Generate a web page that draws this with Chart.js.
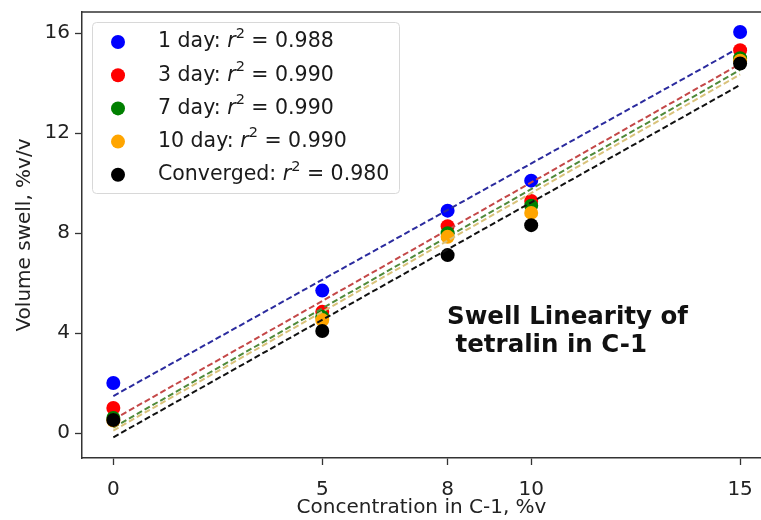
<!DOCTYPE html>
<html>
<head>
<meta charset="utf-8">
<script src="https://cdn.jsdelivr.net/npm/chart.js@4.4.1/dist/chart.umd.min.js"></script>
<style>
  html, body { margin: 0; padding: 0; background: #fff; overflow: hidden; }
</style>
</head>
<body>
<canvas id="myChart" width="761" height="520"></canvas>
<script>
const conc = [0, 5, 8, 10, 15];
const day1 = [2.0, 5.7, 8.9, 10.1, 16.05];
const day3 = [1.0, 4.85, 8.28, 9.29, 15.32];
const day7 = [0.6, 4.65, 8.0, 9.1, 15.0];
const day10 = [0.5, 4.52, 7.85, 8.81, 14.9];
const converged = [0.52, 4.08, 7.12, 8.32, 14.79];

// dashed fit lines, end points at x = 0 and x = 15
const fitX = [0, 15];
const fitDay1 = [1.48, 15.44];
const fitDay3 = [0.54, 14.77];
const fitDay7 = [0.22, 14.53];
const fitDay10 = [0.10, 14.35];
const fitConverged = [-0.17, 13.93];

const xTicks = [0, 5, 8, 10, 15];
const yTicks = [0, 4, 8, 12, 16];

const names = ['1 day', '3 day', '7 day', '10 day', 'Converged'];
const r2 = ['0.988', '0.990', '0.990', '0.990', '0.980'];
const pointColors = ['#0000ff', '#ff0000', '#008000', '#ffa500', '#000000'];
const lineColors = ['#2b2b9e', '#c44848', '#4f8a3a', '#d9c27a', '#111111'];

const series = [day1, day3, day7, day10, converged];
const fits = [fitDay1, fitDay3, fitDay7, fitDay10, fitConverged];

const FONT = 'DejaVu Sans';

function toXY(xs, ys) {
  return xs.map((x, i) => ({ x: x, y: ys[i] }));
}

// same stacking as the original: points, then its line, series by series
const datasets = [];
let order = 10;
series.forEach((ys, i) => {
  datasets.push({
    label: names[i],
    data: toXY(conc, ys),
    showLine: false,
    pointRadius: 7,
    pointBorderWidth: 0,
    backgroundColor: pointColors[i],
    borderColor: pointColors[i],
    order: order--
  });
  datasets.push({
    label: names[i] + ' fit',
    data: toXY(fitX, fits[i]),
    showLine: true,
    pointRadius: 0,
    borderColor: lineColors[i],
    borderWidth: 2,
    borderDash: [6, 3],
    order: order--
  });
});

const extras = {
  id: 'extras',
  afterDraw(chart) {
    const ctx = chart.ctx;
    const a = chart.chartArea;
    ctx.save();

    // top spine (the right one is cut off in the original)
    ctx.strokeStyle = '#333';
    ctx.lineWidth = 1.5;
    ctx.beginPath();
    ctx.moveTo(a.left, a.top);
    ctx.lineTo(a.right, a.top);
    ctx.stroke();

    // legend box
    ctx.fillStyle = 'rgba(255,255,255,0.85)';
    ctx.strokeStyle = '#d8d8d8';
    ctx.lineWidth = 1;
    ctx.beginPath();
    ctx.roundRect(92.5, 22.5, 307, 171, 4);
    ctx.fill();
    ctx.stroke();

    ctx.textBaseline = 'middle';
    names.forEach((n, i) => {
      const y = 42 + i * 33.2;
      ctx.fillStyle = pointColors[i];
      ctx.beginPath();
      ctx.arc(118, y, 7, 0, Math.PI * 2);
      ctx.fill();

      ctx.fillStyle = '#1a1a1a';
      let x = 158;
      ctx.font = '20.5px "' + FONT + '"';
      const t1 = n + ': ';
      ctx.fillText(t1, x, y);
      x += ctx.measureText(t1).width;
      ctx.font = 'italic 20.5px "' + FONT + '"';
      ctx.fillText('r', x, y);
      x += ctx.measureText('r').width;
      ctx.font = '14.5px "' + FONT + '"';
      ctx.fillText('2', x, y - 8);
      x += ctx.measureText('2').width;
      ctx.font = '20.5px "' + FONT + '"';
      ctx.fillText(' = ' + r2[i], x, y);
    });

    // note inside the plot
    ctx.fillStyle = '#111';
    ctx.font = 'bold 24.5px "' + FONT + '"';
    ctx.fillText('Swell Linearity of', 447, 318);
    ctx.fillText(' tetralin in C-1', 447, 346);

    ctx.restore();
  }
};

new Chart(document.getElementById('myChart'), {
  type: 'scatter',
  data: { datasets: datasets },
  options: {
    responsive: false,
    animation: false,
    devicePixelRatio: 1,
    layout: { autoPadding: false, padding: { top: 12, right: 0, left: 0, bottom: 0 } },
    plugins: {
      legend: { display: false },
      tooltip: { enabled: false }
    },
    scales: {
      x: {
        type: 'linear',
        min: -0.75,
        max: 15.5,
        afterFit(s) { s.height = 62; s.paddingLeft = 0; s.paddingRight = 0; },
        afterBuildTicks(s) { s.ticks = xTicks.map(v => ({ value: v })); },
        grid: { drawOnChartArea: false, tickLength: 7, color: '#333', tickWidth: 1.3 },
        border: { color: '#333', width: 1.5 },
        ticks: { font: { family: FONT, size: 20 }, color: '#222', padding: 13, maxRotation: 0, autoSkip: false },
        title: { display: true, text: 'Concentration in C-1, %v', font: { family: FONT, size: 20 }, color: '#222', padding: { top: 0, bottom: 0 } }
      },
      y: {
        type: 'linear',
        min: -1.0,
        max: 16.85,
        afterFit(s) { s.width = 82; s.paddingTop = 0; s.paddingBottom = 0; },
        afterBuildTicks(s) { s.ticks = yTicks.map(v => ({ value: v })); },
        grid: { drawOnChartArea: false, tickLength: 7, color: '#333', tickWidth: 1.3 },
        border: { color: '#333', width: 1.5 },
        ticks: { font: { family: FONT, size: 20 }, color: '#222', padding: 5, autoSkip: false },
        title: { display: true, text: 'Volume swell, %v/v', font: { family: FONT, size: 20 }, color: '#222', padding: { top: 13, bottom: 4 } }
      }
    }
  },
  plugins: [extras]
});
</script>
</body>
</html>
